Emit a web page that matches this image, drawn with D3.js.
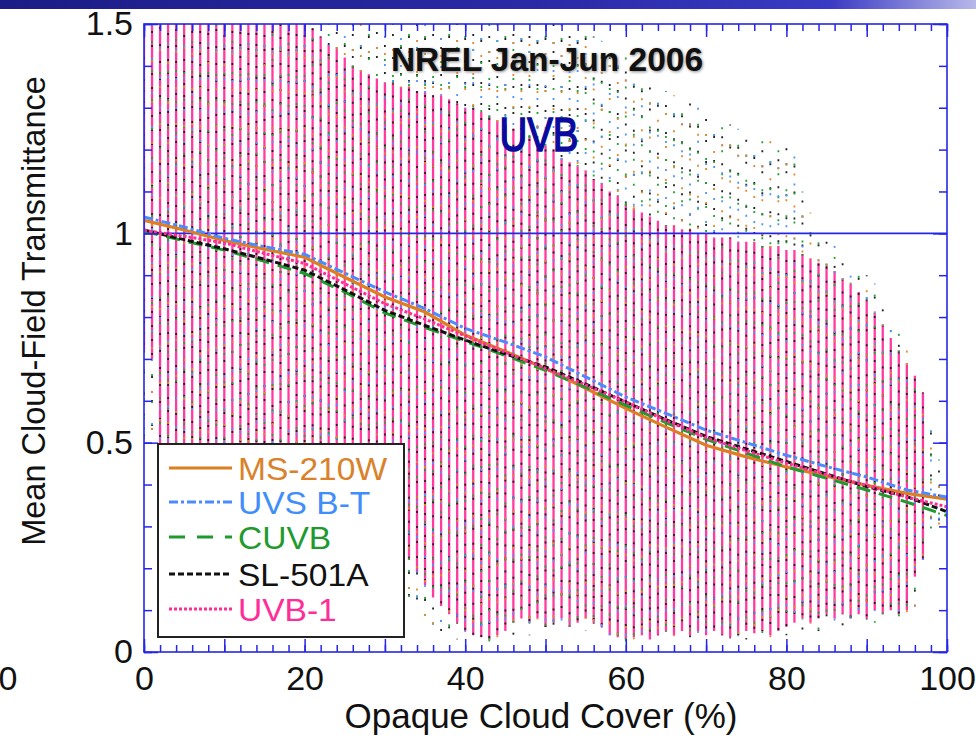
<!DOCTYPE html>
<html><head><meta charset="utf-8">
<script src="https://cdn.jsdelivr.net/npm/d3@7"></script>
<style>
body{margin:0;background:#fff}
svg{display:block}
text{font-family:"Liberation Sans",Arial,Helvetica,sans-serif}
</style>
</head><body>
<svg id="c" width="976" height="748"></svg>
<script>
// ---------- data ----------
const meanX = [0,5,10,15,20,25,30,35,40,45,50,55,60,65,70,75,80,85,90,95,100];
const ms210w = [1.031,1.008,0.983,0.962,0.943,0.895,0.848,0.812,0.757,0.718,0.677,0.630,0.582,0.537,0.494,0.466,0.442,0.420,0.398,0.379,0.365];
const uvsbt  = [1.039,1.015,0.988,0.968,0.950,0.905,0.860,0.820,0.773,0.740,0.705,0.657,0.609,0.570,0.530,0.500,0.470,0.443,0.418,0.387,0.370];
const cuvb   = [1.005,0.982,0.960,0.933,0.904,0.860,0.810,0.775,0.742,0.708,0.673,0.632,0.589,0.548,0.508,0.475,0.442,0.415,0.387,0.358,0.326];
const sl501a = [1.008,0.985,0.963,0.938,0.912,0.865,0.816,0.780,0.745,0.712,0.681,0.640,0.597,0.555,0.515,0.485,0.455,0.425,0.395,0.371,0.335];
const uvb1   = [1.007,0.993,0.977,0.952,0.928,0.880,0.832,0.795,0.755,0.716,0.677,0.638,0.597,0.553,0.512,0.481,0.451,0.423,0.398,0.370,0.347];

// cloud-cover bins 0..100 (%)
const bins = d3.range(0,101);
// UVB-1 individual-point range per bin (drawn as solid columns)
const pinkHi = [1.5,1.5,1.5,1.5,1.5,1.5,1.5,1.5,1.5,1.5,1.5,1.5,1.5,1.5,1.5,1.5,1.5,1.5,1.5,1.5,1.5,
  1.49,1.47,1.45,1.44,1.42,1.40,1.39,1.38,1.37,1.36,
  1.36,1.35,1.35,1.34,1.34,1.33,1.33,1.32,1.31,1.30,
  1.30,1.29,1.28,1.27,1.26,1.25,1.24,1.23,1.22,1.21,
  1.20,1.18,1.17,1.16,1.15,1.13,1.12,1.10,1.09,1.07,
  1.06,1.05,1.04,1.03,1.02,1.02,1.01,1.01,1.00,1.00,
  0.99,0.99,0.99,0.98,0.98,0.98,0.97,0.97,0.97,0.96,
  0.96,0.95,0.94,0.93,0.92,0.91,0.89,0.88,0.86,0.84,
  0.81,0.78,0.75,0.72,0.69,0.66,0.62,null,null,null];
const pinkLo = [0.72,0.70,
  0.30,0.28,0.27,0.26,0.25,0.24,0.23,0.22,0.22,0.21,0.20,0.20,0.19,0.19,0.18,0.18,0.17,0.17,0.16,0.16,0.15,0.15,0.14,0.14,0.13,0.13,0.12,0.12,0.11,0.11,0.10,
  0.22,0.19,0.16,0.13,0.11,0.09,0.07,0.05,
  0.04,0.035,0.03,0.04,0.05,0.07,0.08,0.07,0.08,0.06,
  0.07,0.08,0.06,0.07,0.08,0.07,0.06,0.04,0.035,0.03,
  0.035,0.04,0.03,0.04,0.05,0.04,0.05,0.04,0.05,0.04,
  0.05,0.04,0.035,0.04,0.05,0.045,0.05,0.04,0.05,0.06,
  0.07,0.08,0.07,0.08,0.09,0.08,0.09,0.08,0.09,0.08,
  0.10,0.09,0.10,0.09,0.10,0.18,0.22,null,null,null];
// extent of the other instruments' individual points per bin
const dotHi = [1.5,1.5,1.5,1.5,1.5,1.5,1.5,1.5,1.5,1.5,1.5,1.5,1.5,1.5,1.5,1.5,1.5,1.5,1.5,1.5,
  1.5,1.5,1.5,1.5,1.5,1.5,1.5,1.5,1.5,1.5,1.5,1.5,1.5,1.5,1.5,1.5,1.5,1.5,1.5,1.5,
  1.5,1.5,1.5,1.5,1.5,1.5,1.5,1.5,1.5,1.5,1.5,1.5,1.5,1.5,1.5,1.5,
  1.47,1.46,1.45,1.44,1.42,1.40,1.38,1.36,1.35,1.34,1.33,1.32,1.31,1.30,1.29,
  1.28,1.27,1.26,1.25,1.24,1.23,1.22,1.22,1.22,1.22,
  1.21,1.10,1.05,1.00,0.98,0.97,0.95,0.93,0.92,0.90,
  0.88,0.84,0.80,0.76,0.72,0.68,0.62,0.56,0.46,0.40];
const dotLo = [0.50,0.50,
  0.05,0.05,0.05,0.05,0.05,0.05,0.05,0.05,0.05,0.05,0.05,0.05,0.05,0.05,0.05,0.05,0.05,0.05,0.05,0.05,0.05,0.05,0.05,0.05,0.05,0.05,0.05,0.05,0.05,0.05,0.05,
  0.12,0.10,0.08,0.06,0.05,0.04,0.03,0.03,
  0.02,0.02,0.02,0.03,0.03,0.04,0.05,0.04,0.05,0.04,
  0.04,0.05,0.04,0.05,0.05,0.04,0.04,0.03,0.02,0.02,
  0.02,0.03,0.02,0.03,0.03,0.03,0.03,0.03,0.03,0.03,
  0.03,0.03,0.02,0.03,0.03,0.03,0.03,0.03,0.04,0.04,
  0.05,0.05,0.05,0.05,0.06,0.06,0.06,0.06,0.07,0.07,
  0.07,0.07,0.08,0.08,0.08,0.10,0.20,0.28,0.30,0.32];

const xTicks = [0,20,40,60,80,100];
const yTicks = [0,0.5,1,1.5];
const legendNames = ["MS-210W","UVS B-T","CUVB","SL-501A","UVB-1"];

// ---------- layout ----------
const svg = d3.select("#c");
const X0=144, X1=947, Y0=652, Y1=24;
const x = d3.scaleLinear().domain([0,100]).range([X0,X1]);
const y = d3.scaleLinear().domain([0,1.5]).range([Y0,Y1]);
const AX = "#2626e6";
const PINK = "#ff3b9f";
const dotColors = ["#222222","#22a336","#4f94ff","#e08a2c"];

// banner
const defs = svg.append("defs");
const g1 = defs.append("linearGradient").attr("id","ban");
[["0%","#1c1c86"],["55%","#2a2aa6"],["85%","#3a3ac4"],["100%","#b8b8ea"]].forEach(s=>g1.append("stop").attr("offset",s[0]).attr("stop-color",s[1]));
svg.append("rect").attr("x",0).attr("y",0).attr("width",976).attr("height",9).attr("fill","url(#ban)");
defs.append("clipPath").attr("id","plot").append("rect").attr("x",X0).attr("y",Y1).attr("width",X1-X0).attr("height",Y0-Y1);
const blur = defs.append("filter").attr("id","sh").attr("x","-5%").attr("y","-20%").attr("width","110%").attr("height","140%");
blur.append("feGaussianBlur").attr("stdDeviation",1.6);

const plot = svg.append("g").attr("clip-path","url(#plot)");

// UVB-1 point columns
plot.append("g").selectAll("line").data(bins.filter(i=>pinkHi[i]!=null)).join("line")
  .attr("x1",i=>x(i)).attr("x2",i=>x(i))
  .attr("y1",i=>y(pinkLo[i])).attr("y2",i=>y(pinkHi[i]))
  .attr("stroke",PINK).attr("stroke-width",2.3);

// other instruments' points
const densePer = [9,23,27,33], sparsePer=[19,21,25,29];
const segs = [];
bins.forEach(i=>{
  const hi=dotHi[i], lo=dotLo[i];
  if(pinkHi[i]==null){ segs.push({i,a:lo,b:hi,dense:false}); return; }
  const pl=Math.max(lo,pinkLo[i]), ph=Math.min(hi,pinkHi[i]);
  if(ph>pl) segs.push({i,a:pl,b:ph,dense:true});
  if(hi>pinkHi[i]) segs.push({i,a:pinkHi[i],b:hi,dense:false});
  if(lo<pinkLo[i]) segs.push({i,a:lo,b:pinkLo[i],dense:false});
});
dotColors.forEach((c,k)=>{
  plot.append("g").selectAll("line").data(segs).join("line")
    .attr("x1",d=>x(d.i)).attr("x2",d=>x(d.i))
    .attr("y1",d=>y(d.b)).attr("y2",d=>y(d.a))
    .attr("stroke",c).attr("stroke-width",1.8)
    .attr("stroke-dasharray",d=>{const p=(d.dense?densePer[k]:sparsePer[k])+((d.i*3+k)%7); return "2 "+p;})
    .attr("stroke-dashoffset",d=>(d.i*7+k*5)%17);
});

// reference line at 1
plot.append("line").attr("x1",X0).attr("x2",X1).attr("y1",y(1)).attr("y2",y(1)).attr("stroke",AX).attr("stroke-width",1.6);

// mean lines
const seriesDefs = [
  {name:"MS-210W", v:ms210w, color:"#dc7f22", dash:null, w:3.2},
  {name:"CUVB",    v:cuvb,   color:"#1f9a2f", dash:"14 9", w:3},
  {name:"SL-501A", v:sl501a, color:"#111111", dash:"6 3", w:3},
  {name:"UVB-1",   v:uvb1,   color:"#ff2d96", dash:"3 2", w:3},
  {name:"UVS B-T", v:uvsbt,  color:"#4a8cff", dash:"9 3 3 3", w:3}
];
const line = d3.line().x((d,i)=>x(meanX[i])).y(d=>y(d));
seriesDefs.forEach(s=>{
  plot.append("path").attr("d",line(s.v)).attr("fill","none").attr("stroke",s.color)
    .attr("stroke-width",s.w).attr("stroke-dasharray",s.dash);
});

// frame & ticks
svg.append("rect").attr("x",X0).attr("y",Y1).attr("width",X1-X0).attr("height",Y0-Y1)
  .attr("fill","none").attr("stroke",AX).attr("stroke-width",1.6);
const minorX = d3.range(0,101,2), majorX = d3.range(0,101,10);
const minorY = d3.range(0,16).map(d=>d/10), majorY=[0,0.5,1,1.5];
function axisStyle(g){ g.select(".domain").remove(); g.selectAll(".tick line").attr("stroke",AX).attr("stroke-width",1.5); }
svg.append("g").attr("transform",`translate(0,${Y0})`).call(d3.axisBottom(x).tickValues(minorX).tickSize(-7).tickFormat("")).call(axisStyle);
svg.append("g").attr("transform",`translate(0,${Y1})`).call(d3.axisTop(x).tickValues(minorX).tickSize(-7).tickFormat("")).call(axisStyle);
svg.append("g").attr("transform",`translate(0,${Y0})`).call(d3.axisBottom(x).tickValues(majorX).tickSize(-13).tickFormat("")).call(axisStyle);
svg.append("g").attr("transform",`translate(0,${Y1})`).call(d3.axisTop(x).tickValues(majorX).tickSize(-13).tickFormat("")).call(axisStyle);
svg.append("g").attr("transform",`translate(${X0},0)`).call(d3.axisLeft(y).tickValues(minorY).tickSize(-8).tickFormat("")).call(axisStyle);
svg.append("g").attr("transform",`translate(${X1},0)`).call(d3.axisRight(y).tickValues(minorY).tickSize(-8).tickFormat("")).call(axisStyle);
svg.append("g").attr("transform",`translate(${X0},0)`).call(d3.axisLeft(y).tickValues(majorY).tickSize(-14).tickFormat("")).call(axisStyle);
svg.append("g").attr("transform",`translate(${X1},0)`).call(d3.axisRight(y).tickValues(majorY).tickSize(-14).tickFormat("")).call(axisStyle);

// tick labels
const xl = svg.append("g").attr("transform",`translate(0,${Y0})`)
  .call(d3.axisBottom(x).tickValues(xTicks).tickSize(0).tickPadding(14).tickFormat(d3.format("d")));
xl.select(".domain").remove();
xl.selectAll("text").attr("font-size",34).attr("fill","#111").attr("font-family","Liberation Sans, Arial, sans-serif");
const yl = svg.append("g").attr("transform",`translate(${X0},0)`)
  .call(d3.axisLeft(y).tickValues(yTicks).tickSize(0).tickPadding(11).tickFormat(d=>String(d)));
yl.select(".domain").remove();
yl.selectAll("text").attr("font-size",34).attr("fill","#111").attr("font-family","Liberation Sans, Arial, sans-serif");
// stray label at the left edge of the slide
svg.append("text").attr("x",8).attr("y",690).attr("text-anchor","middle").attr("font-size",34).attr("fill","#111").text("0");

// axis titles
svg.append("text").attr("x",541).attr("y",728).attr("text-anchor","middle").attr("font-size",35).attr("fill","#111").text("Opaque Cloud Cover (%)");
svg.append("text").attr("transform","translate(45,311) rotate(-90)").attr("text-anchor","middle").attr("font-size",32.5).attr("fill","#111").text("Mean Cloud-Field Transmittance");

// titles in plot
svg.append("text").attr("x",548).attr("y",72).attr("text-anchor","middle").attr("font-size",33.5).attr("font-weight","bold").attr("fill","#888").attr("filter","url(#sh)").text("NREL Jan-Jun 2006");
svg.append("text").attr("x",547).attr("y",71).attr("text-anchor","middle").attr("font-size",33.5).attr("font-weight","bold").attr("fill","#111").text("NREL Jan-Jun 2006");
svg.append("text").attr("transform","translate(539,151) scale(0.8,1)").attr("text-anchor","middle")
  .attr("font-size",48).attr("fill","#0a0a9e").attr("stroke","#0a0a9e").attr("stroke-width",1.6).text("UVB");

// legend
const lg = svg.append("g");
lg.append("rect").attr("x",158).attr("y",444).attr("width",246).attr("height",193).attr("fill","#fff").attr("stroke","#222").attr("stroke-width",2);
const legendStyle = {
  "MS-210W":{color:"#dc7f22", text:"#d9822b", dash:null},
  "UVS B-T":{color:"#4a8cff", text:"#3f8efc", dash:"9 3 3 3"},
  "CUVB":{color:"#1f9a2f", text:"#1f9a2f", dash:"16 12"},
  "SL-501A":{color:"#111111", text:"#111111", dash:"6 3"},
  "UVB-1":{color:"#ff2d96", text:"#ff2d96", dash:"3 2"}
};
const rowBase = [480,514,549,586,621];
legendNames.forEach((n,i)=>{
  const st = legendStyle[n];
  lg.append("line").attr("x1",169).attr("x2",232).attr("y1",rowBase[i]-12).attr("y2",rowBase[i]-12)
    .attr("stroke",st.color).attr("stroke-width",3).attr("stroke-dasharray",st.dash);
  lg.append("text").attr("transform",`translate(238,${rowBase[i]}) scale(1.1,1)`).attr("font-size",30.5).attr("fill",st.text).text(n);
});
</script>
</body></html>
